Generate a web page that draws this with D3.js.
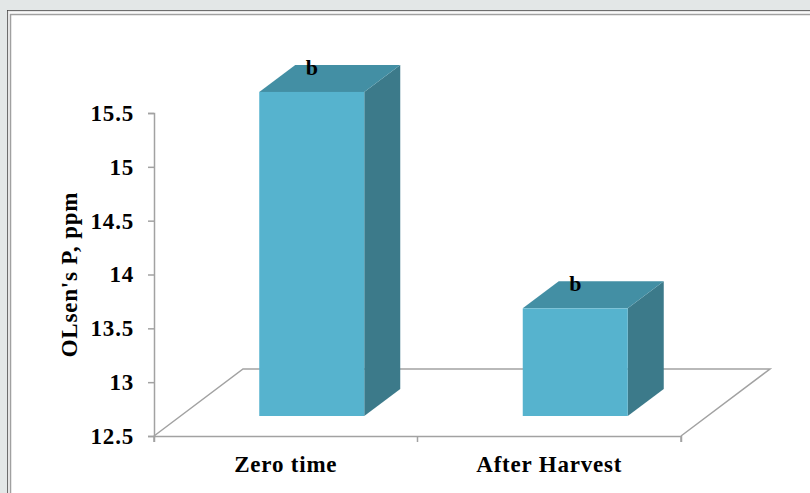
<!DOCTYPE html>
<html>
<head>
<meta charset="utf-8">
<script src="https://cdn.jsdelivr.net/npm/d3@7"></script>
<style>
  html, body { margin: 0; padding: 0; background: #e3e7e7; overflow: hidden; }
  text { font-family: "Liberation Serif", serif; font-weight: bold; fill: #000; }
</style>
</head>
<body>
<div id="chart"></div>
<script>
// Chart data
const categories = ["Zero time", "After Harvest"];
const values = [15.51, 13.5];
const letters = ["b", "b"];
const yTicks = [12.5, 13, 13.5, 14, 14.5, 15, 15.5];

const width = 810;
const height = 493;
const margin = { top: 113, right: 129, bottom: 57, left: 154 };

// 3D look: how far the floor and the bars are pushed back
const floorDx = 89, floorDy = -67;
const barDx = 36, barDy = -27;
const barOffsetX = 26, barOffsetY = -20;
const barWidth = 105;

const axisColor = "#a2a2a2";
const spacing = "0.8px";

const svg = d3.select("#chart").append("svg")
  .attr("width", width)
  .attr("height", height)
  .style("display", "block");

// Page frame
svg.append("rect").attr("x", 7.5).attr("y", 10.5).attr("width", 830).attr("height", 520)
  .attr("fill", "#fff").attr("stroke", "#444");
svg.append("rect").attr("x", 8.5).attr("y", 11.5).attr("width", 830).attr("height", 520)
  .attr("fill", "#fff").attr("stroke", "#e6e6e6").attr("stroke-width", 1.5);
svg.append("rect").attr("x", 10.5).attr("y", 14.5).attr("width", 830).attr("height", 520)
  .attr("fill", "#fff").attr("stroke", "#a0a0a0").attr("stroke-width", 1.5);

const xScale = d3.scaleBand()
  .domain(categories)
  .range([margin.left, width - margin.right]);

const yScale = d3.scaleLinear()
  .domain([12.5, 15.5])
  .range([height - margin.bottom, margin.top]);

const x0 = xScale.range()[0], x1 = xScale.range()[1], y0 = yScale(12.5);

// Floor
svg.append("path")
  .attr("d", `M${x0},${y0} L${x0 + floorDx},${y0 + floorDy} L${x1 + floorDx},${y0 + floorDy} L${x1},${y0}`)
  .attr("fill", "none")
  .attr("stroke", axisColor)
  .attr("stroke-width", 1.5);

// Y axis
const yAxis = svg.append("g")
  .attr("transform", `translate(${x0},0)`)
  .call(d3.axisLeft(yScale).tickValues(yTicks).tickSize(6).tickFormat(d3.format("")));
yAxis.selectAll("path, line").attr("stroke", axisColor).attr("stroke-width", 1.5);
yAxis.selectAll("text")
  .attr("font-size", 23)
  .attr("font-family", null)
  .style("letter-spacing", spacing)
  .attr("x", -20)
  .attr("dy", "0.32em");

// X axis
const xAxis = svg.append("g")
  .attr("transform", `translate(0,${y0})`)
  .call(d3.axisBottom(xScale).tickValues([]).tickSizeOuter(6));
xAxis.select("path").attr("stroke", axisColor).attr("stroke-width", 1.5);
xAxis.selectAll(".edge")
  .data([x0, (x0 + x1) / 2, x1])
  .enter().append("line")
  .attr("x1", (d) => d).attr("x2", (d) => d)
  .attr("y1", 0).attr("y2", 6)
  .attr("stroke", axisColor).attr("stroke-width", 1.5);

svg.selectAll(".cat-label")
  .data(categories)
  .enter().append("text")
  .attr("class", "cat-label")
  .attr("x", (d) => xScale(d) + xScale.bandwidth() / 2)
  .attr("y", y0 + 36)
  .attr("text-anchor", "middle")
  .attr("font-size", 23)
  .style("letter-spacing", spacing)
  .text((d) => d);

// Y title
svg.append("text")
  .attr("transform", `translate(77,${yScale(14)}) rotate(-90)`)
  .attr("text-anchor", "middle")
  .attr("font-size", 23)
  .style("letter-spacing", spacing)
  .text("OLsen's P, ppm");

// Bars
const bars = svg.selectAll(".bar")
  .data(categories.map((c, i) => ({ cat: c, value: values[i], letter: letters[i] })))
  .enter().append("g")
  .attr("class", "bar");

const barLeft = (d) => xScale(d.cat) + xScale.bandwidth() / 2 + barOffsetX - barWidth / 2;
const barTop = (d) => yScale(d.value) + barOffsetY;
const barBottom = y0 + barOffsetY;

// side face
bars.append("path")
  .attr("fill", "#3c7a8a")
  .attr("d", (d) => {
    const r = barLeft(d) + barWidth;
    return `M${r},${barTop(d)} L${r + barDx},${barTop(d) + barDy} L${r + barDx},${barBottom + barDy} L${r},${barBottom} Z`;
  });

// top face
bars.append("path")
  .attr("fill", "#438fa4")
  .attr("d", (d) => {
    const l = barLeft(d), r = l + barWidth, t = barTop(d);
    return `M${l},${t} L${l + barDx},${t + barDy} L${r + barDx},${t + barDy} L${r},${t} Z`;
  });

// front face
bars.append("rect")
  .attr("fill", "#56b3ce")
  .attr("x", barLeft)
  .attr("y", barTop)
  .attr("width", barWidth)
  .attr("height", (d) => barBottom - barTop(d));

// letters sitting on the top face
bars.append("text")
  .attr("x", (d) => barLeft(d) + barWidth / 2)
  .attr("y", (d) => barTop(d) + barDy + 10)
  .attr("text-anchor", "middle")
  .attr("font-size", 22)
  .text((d) => d.letter);
</script>
</body>
</html>
